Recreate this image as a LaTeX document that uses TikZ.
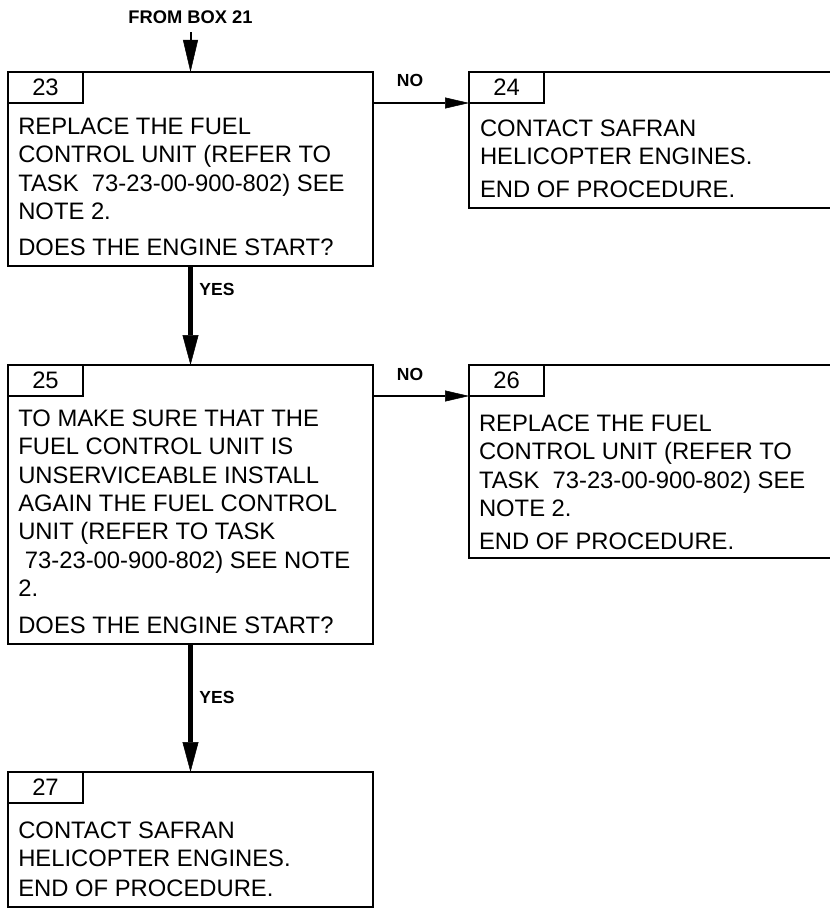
\documentclass[tikz,border=0pt]{standalone}
\usepackage{fontspec}
\setmainfont{Liberation Sans}
\usetikzlibrary{arrows.meta}
\begin{document}
\begin{tikzpicture}[x=1pt,y=-1pt,
  box/.style={draw, line width=2.7pt, inner sep=0pt, outer sep=0pt, anchor=north west},
  tabbox/.style={draw, line width=2.7pt, inner sep=0pt, outer sep=0pt, anchor=north west, minimum width=75pt, minimum height=31pt, font=\fontsize{23.8}{28.3}\selectfont},
  body/.style={inner sep=0pt, outer sep=0pt, anchor=north west, align=left, font=\fontsize{23.8}{28.3}\selectfont},
  lbl/.style={inner sep=0pt, font=\fontsize{17.5}{20}\selectfont\bfseries},
  yesarrow/.style={line width=4.3pt, -{Triangle[length=30pt,width=16pt,line width=0.5pt]}},
  noarrow/.style={line width=2.7pt, -{Triangle[length=24pt,width=11pt,line width=0.5pt]}},
  fromarrow/.style={line width=2pt, -{Triangle[length=32pt,width=15pt,line width=0.5pt]}},
]
\useasboundingbox (0,0) rectangle (829,909);

% boxes
\node[box, minimum width=365pt, minimum height=194pt] (b23) at (8,72) {};
\node[box, minimum width=380pt, minimum height=136pt] (b24) at (469,72) {};
\node[box, minimum width=365pt, minimum height=279pt] (b25) at (8,365) {};
\node[box, minimum width=380pt, minimum height=193pt] (b26) at (469,365) {};
\node[box, minimum width=365pt, minimum height=135pt] (b27) at (8,772) {};

% number tabs
\node[tabbox] (t23) at (b23.north west) {23};
\node[tabbox] (t24) at (b24.north west) {24};
\node[tabbox] (t25) at (b25.north west) {25};
\node[tabbox] (t26) at (b26.north west) {26};
\node[tabbox] (t27) at (b27.north west) {27};

% texts
\node[body] (x23) at (18.3,118) {REPLACE THE FUEL\\CONTROL UNIT (REFER TO\\TASK\ \ 73-23-00-900-802) SEE\\NOTE 2.\\[8pt]DOES THE ENGINE START?};
\node[body] (x24) at (480,120) {CONTACT SAFRAN\\HELICOPTER ENGINES.\\[4pt]END OF PROCEDURE.};
\node[body] (x25) at (18.3,410) {TO MAKE SURE THAT THE\\FUEL CONTROL UNIT IS\\UNSERVICEABLE INSTALL\\AGAIN THE FUEL CONTROL\\UNIT (REFER TO TASK\\\hspace*{6.6pt}73-23-00-900-802) SEE NOTE\\2.\\[8.3pt]DOES THE ENGINE START?};
\node[body] (x26) at (479,415) {REPLACE THE FUEL\\CONTROL UNIT (REFER TO\\TASK\ \ 73-23-00-900-802) SEE\\NOTE 2.\\[5pt]END OF PROCEDURE.};
\node[body] (x27) at (18.3,821.7) {CONTACT SAFRAN\\HELICOPTER ENGINES.\\[2pt]END OF PROCEDURE.};

% labels
\node[lbl, font=\fontsize{18.3}{20}\selectfont\bfseries] (from) at (190.5,17.5) {FROM BOX 21};
\node[lbl] (no1) at (410,80) {NO};
\node[lbl] (no2) at (410,374) {NO};
\node[lbl] (yes1) at (217,289) {YES};
\node[lbl] (yes2) at (217,697) {YES};

% connectors
\draw[fromarrow, shorten <=8pt] (from.south) -- (b23.north);
\draw[yesarrow] (b23.south) -- (b25.north);
\draw[yesarrow] (b25.south) -- (b27.north);
\draw[noarrow] (b23.east |- t24.south) -- (b24.west |- t24.south);
\draw[noarrow] (b25.east |- t26.south) -- (b26.west |- t26.south);
\end{tikzpicture}
\end{document}
